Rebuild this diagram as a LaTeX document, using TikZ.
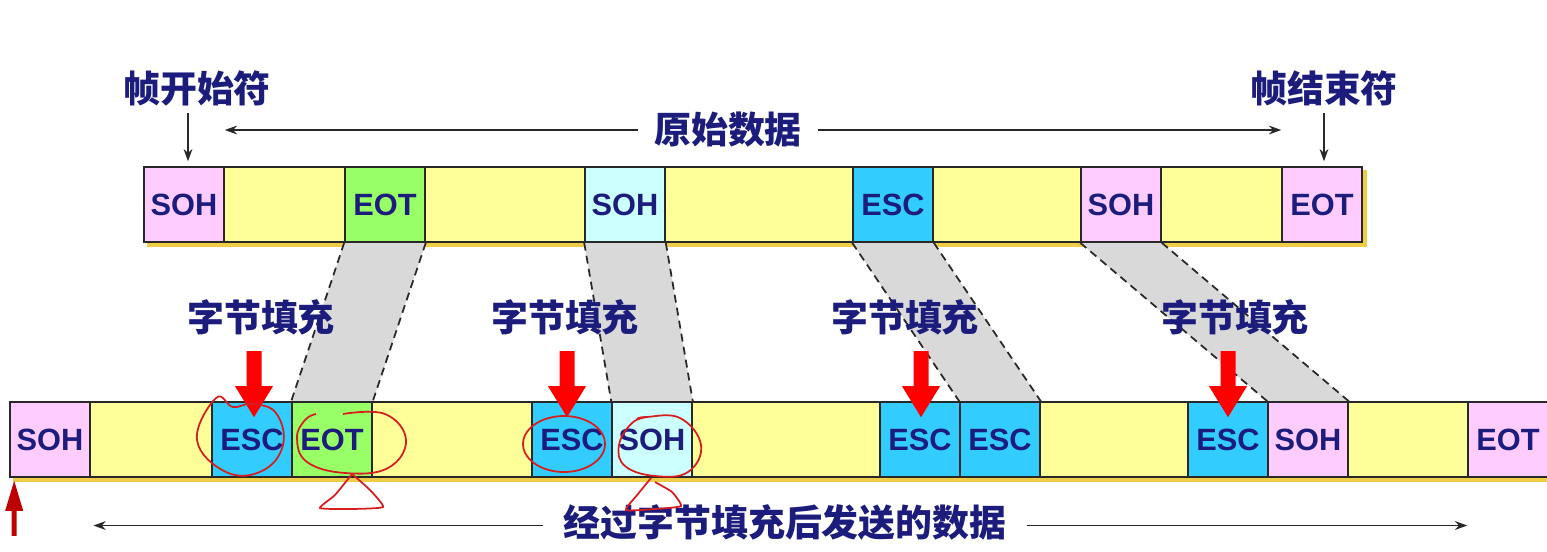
\documentclass[tikz,border=0pt]{standalone}
\usepackage{fontspec}
\newfontfamily\cjk{Noto Sans CJK SC}
\newfontfamily\lat{Liberation Sans}
\usetikzlibrary{arrows.meta,backgrounds}
\definecolor{navy}{RGB}{28,28,125}
\definecolor{cpink}{RGB}{255,204,255}
\definecolor{cyel}{RGB}{255,255,153}
\definecolor{cgreen}{RGB}{153,255,102}
\definecolor{clcyan}{RGB}{204,255,255}
\definecolor{cblue}{RGB}{51,204,255}
\definecolor{cshadow}{RGB}{240,205,70}
\definecolor{cgray}{RGB}{217,217,217}
\definecolor{cline}{RGB}{40,40,40}
\definecolor{penred}{RGB}{215,30,30}
\definecolor{dred}{RGB}{190,0,0}
\newcommand\mycell[6]{\node[cell,fill=#5,minimum width={(#3-#2)*0.02cm}] (#1) at ({(#2+#3)/2},#4) {#6};}
\begin{document}
\begin{tikzpicture}[x=0.02cm,y=-0.02cm,
 cell/.style={draw=cline, line width=0.9pt, inner sep=0pt, minimum height=1.5cm, text=navy, font=\lat\bfseries\fontsize{17.5}{20}\selectfont},
 lbl/.style={text=navy, font=\cjk\bfseries\fontsize{21}{24}\selectfont, inner sep=0pt},
 arr/.style={-{Stealth[length=7pt,width=5pt]}, line width=0.9pt, draw=cline},
 dline/.style={draw=cline, line width=1pt, dash pattern=on 4.5pt off 3pt},
 penmark/.style={draw=penred, line width=1pt},
 bigred/.style={fill=red}]
\useasboundingbox (0,0) rectangle (1547,551);
% top row
\mycell{t1}{144}{224}{204.5}{cpink}{SOH}
\mycell{t2}{224}{345}{204.5}{cyel}{}
\mycell{t3}{345}{425}{204.5}{cgreen}{EOT}
\mycell{t4}{425}{585}{204.5}{cyel}{}
\mycell{t5}{585}{665}{204.5}{clcyan}{SOH}
\mycell{t6}{665}{853}{204.5}{cyel}{}
\mycell{t7}{853}{933}{204.5}{cblue}{ESC}
\mycell{t8}{933}{1081}{204.5}{cyel}{}
\mycell{t9}{1081}{1161}{204.5}{cpink}{SOH}
\mycell{t10}{1161}{1282}{204.5}{cyel}{}
\mycell{t11}{1282}{1362}{204.5}{cpink}{EOT}
% bottom row
\mycell{b1}{10}{90}{439.5}{cpink}{SOH}
\mycell{b2}{90}{212}{439.5}{cyel}{}
\mycell{b3}{212}{292}{439.5}{cblue}{ESC}
\mycell{b4}{292}{372}{439.5}{cgreen}{EOT}
\mycell{b5}{372}{532}{439.5}{cyel}{}
\mycell{b6}{532}{612}{439.5}{cblue}{ESC}
\mycell{b7}{612}{692}{439.5}{clcyan}{SOH}
\mycell{b8}{692}{880}{439.5}{cyel}{}
\mycell{b9}{880}{960}{439.5}{cblue}{ESC}
\mycell{b10}{960}{1040}{439.5}{cblue}{ESC}
\mycell{b11}{1040}{1188}{439.5}{cyel}{}
\mycell{b12}{1188}{1268}{439.5}{cblue}{ESC}
\mycell{b13}{1268}{1348}{439.5}{cpink}{SOH}
\mycell{b14}{1348}{1468}{439.5}{cyel}{}
\mycell{b15}{1468}{1548}{439.5}{cpink}{EOT}
% background: page, shadows and grey bands
\begin{scope}[on background layer]
 \fill[white] (0,0) rectangle (1547,551);
 \fill[cshadow] ([shift={(4,4)}]t1.north west) rectangle ([shift={(4,4)}]t11.south east);
 \fill[cshadow] ([shift={(4,4)}]b1.north west) rectangle ([shift={(4,4)}]b15.south east);
 \fill[cgray] (t3.south west) -- (b4.north west) -- (b4.north east) -- (t3.south east) -- cycle;
 \fill[cgray] (t5.south west) -- (b7.north west) -- (b7.north east) -- (t5.south east) -- cycle;
 \fill[cgray] (t7.south west) -- (b10.north west) -- (b10.north east) -- (t7.south east) -- cycle;
 \fill[cgray] (t9.south west) -- (b13.north west) -- (b13.north east) -- (t9.south east) -- cycle;
\end{scope}
\draw[dline] (t3.south west) -- (b4.north west);
\draw[dline] (t3.south east) -- (b4.north east);
\draw[dline] (t5.south west) -- (b7.north west);
\draw[dline] (t5.south east) -- (b7.north east);
\draw[dline] (t7.south west) -- (b10.north west);
\draw[dline] (t7.south east) -- (b10.north east);
\draw[dline] (t9.south west) -- (b13.north west);
\draw[dline] (t9.south east) -- (b13.north east);
% labels
\node[lbl] (fs) at (197,88) {帧开始符};
\node[lbl] (fe) at (1324,88) {帧结束符};
\node[lbl, inner xsep=0.32cm] (od) at (728,130) {原始数据};
\node[lbl] (z1) at (261,317) {字节填充};
\node[lbl] (z2) at (565,317) {字节填充};
\node[lbl] (z3) at (905,317) {字节填充};
\node[lbl] (z4) at (1235,317) {字节填充};
\node[lbl, inner xsep=0.4cm] (sd) at (785,522) {经过字节填充后发送的数据};
% black arrows
\coordinate (fsa) at (188,113);
\coordinate (fea) at (1324,113);
\draw[arr, shorten >=2.8pt] (fsa) -- (fsa |- t1.north);
\draw[arr, shorten >=2.8pt] (fea) -- (fea |- t11.north);
\draw[arr] (od.west) -- (od.west -| t1.east);
\draw[arr] (od.east) -- (od.east -| t11.west);
\draw[arr] ([yshift=-2pt]sd.west) -- ([shift={(1.5pt,-2pt)}]sd.west -| b1.east);
\draw[arr] ([yshift=-2pt]sd.east) -- ([yshift=-2pt]sd.east -| b15.west);
% red fill arrows
\coordinate (r1) at ([shift={(2,16)}]b3.north);
\coordinate (r2) at ([shift={(-5,16)}]b6.north);
\coordinate (r3) at ([shift={(1,16)}]b9.north);
\coordinate (r4) at ([shift={(0,16)}]b12.north);
\foreach \r in {r1,r2,r3,r4}{
 \fill[bigred] (\r) -- ++(-19,-31) -- ++(11.5,0) -- ++(0,-35) -- ++(15,0) -- ++(0,35) -- ++(11.5,0) -- cycle;
}
% dark red up arrow
\coordinate (ut) at ([shift={(5,3)}]b1.south west);
\fill[dred] (ut) -- ++(9,30) -- ++(-6.5,0) -- ++(0,25) -- ++(-5,0) -- ++(0,-25) -- ++(-6.5,0) -- cycle;
% hand-drawn marks
\draw[penmark] plot[smooth cycle, tension=0.7] coordinates {(216,398) (197,440) (226,472) (262,471) (283,445) (276,413) (252,404) (233,407)};
\draw[penmark] plot[smooth, tension=0.7] coordinates {(343,414) (385,414) (406,440) (388,468) (345,473) (307,462) (297,438) (305,420) (316,414)};
\draw[penmark] plot[smooth, tension=0.3] coordinates {(352,474) (335,495) (320,508) (350,509) (383,507) (370,490) (352,474)};
\draw[penmark] (564,444) ellipse [x radius=41, y radius=28];
\draw[penmark] plot[smooth, tension=0.7] coordinates {(637,419) (646,417) (680,418) (701,445) (688,472) (655,476) (625,466) (619,445) (632,423) (648,417)};
\draw[penmark] plot[smooth, tension=0.3] coordinates {(651,478) (638,494) (626,510) (655,509) (681,506) (672,492) (655,482)};
\end{tikzpicture}
\end{document}
